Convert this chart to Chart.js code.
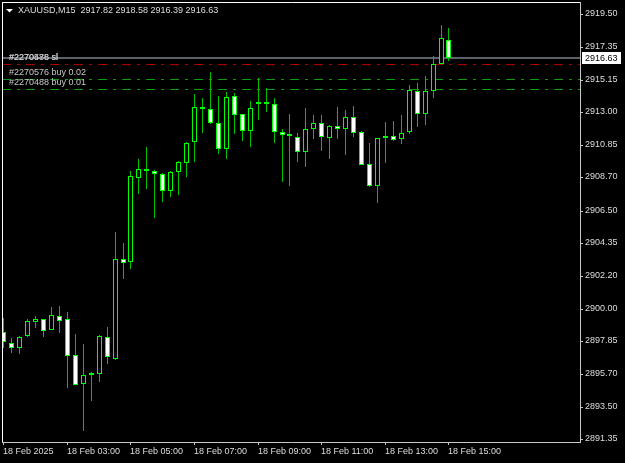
<!DOCTYPE html>
<html><head><meta charset="utf-8">
<script src="https://cdn.jsdelivr.net/npm/chart.js@4/dist/chart.umd.min.js"></script>
<style>html,body{margin:0;padding:0;background:#000;overflow:hidden}</style>
</head><body><canvas id="c" width="625" height="463"></canvas>
<script>
// ---------------- DATA ----------------
const symbolTitle = 'XAUUSD,M15';
const times = ['01:00','01:15','01:30','01:45','02:00','02:15','02:30','02:45',
  '03:00','03:15','03:30','03:45','04:00','04:15','04:30','04:45',
  '05:00','05:15','05:30','05:45','06:00','06:15','06:30','06:45',
  '07:00','07:15','07:30','07:45','08:00','08:15','08:30','08:45',
  '09:00','09:15','09:30','09:45','10:00','10:15','10:30','10:45',
  '11:00','11:15','11:30','11:45','12:00','12:15','12:30','12:45',
  '13:00','13:15','13:30','13:45','14:00','14:15','14:30','14:45','15:00'];
const open  = [2898.48,2897.71,2897.43,2898.21,2899.14,2899.30,2898.61,2899.55,
  2899.30,2896.92,2895.00,2895.58,2895.71,2898.11,2896.67,2903.30,
  2903.12,2908.64,2909.20,2909.14,2908.94,2907.81,2909.06,2909.63,
  2911.02,2913.26,2913.21,2912.28,2910.56,2914.06,2912.88,2911.75,
  2913.58,2913.55,2913.54,2911.69,2911.47,2911.40,2910.35,2911.89,
  2912.28,2911.34,2912.10,2911.89,2912.68,2911.71,2909.61,2908.13,
  2911.33,2911.44,2911.22,2911.73,2914.41,2912.92,2914.44,2916.23,2917.82];
const high  = [2899.39,2898.04,2898.21,2899.30,2899.52,2899.32,2900.10,2900.16,
  2899.78,2898.33,2897.66,2895.79,2898.26,2898.77,2905.10,2904.36,
  2909.09,2909.93,2910.73,2909.17,2908.96,2909.12,2909.79,2911.04,
  2914.22,2913.96,2915.68,2914.09,2914.36,2914.28,2912.90,2913.76,
  2915.27,2914.60,2913.94,2911.89,2912.90,2911.62,2913.30,2912.83,
  2912.83,2912.14,2913.36,2913.16,2913.43,2911.77,2911.00,2911.34,
  2912.37,2912.46,2912.83,2914.80,2914.93,2915.41,2916.72,2918.81,2918.58];
const low   = [2897.38,2897.09,2897.02,2898.13,2898.74,2898.15,2898.59,2898.41,
  2894.73,2894.95,2891.93,2893.87,2895.17,2896.34,2896.61,2902.00,
  2902.63,2907.60,2907.91,2906.03,2907.09,2907.38,2907.55,2908.73,
  2909.70,2911.67,2912.24,2910.22,2909.89,2911.59,2911.13,2910.73,
  2912.52,2913.05,2910.96,2908.41,2908.13,2909.70,2909.37,2911.26,
  2910.47,2909.89,2911.22,2910.20,2911.40,2909.49,2908.08,2907.00,
  2909.67,2911.14,2910.89,2911.59,2912.06,2912.17,2913.96,2916.21,2916.39];
const close = [2897.78,2897.38,2898.15,2899.16,2899.32,2898.55,2899.57,2899.21,
  2896.90,2894.98,2895.60,2895.76,2898.20,2896.82,2903.30,2903.06,
  2908.77,2909.24,2909.15,2908.92,2907.81,2909.08,2909.72,2910.98,
  2913.34,2913.23,2912.27,2910.56,2914.00,2912.81,2911.75,2913.27,
  2913.55,2913.57,2911.69,2911.49,2911.45,2910.35,2911.89,2912.28,
  2911.35,2912.10,2911.89,2912.68,2911.62,2909.51,2908.13,2911.31,
  2911.32,2911.15,2911.63,2914.47,2912.92,2914.40,2916.24,2917.93,2916.63];
const xTickTimes  = ['01:00','03:00','05:00','07:00','09:00','11:00','13:00','15:00'];
const xTickLabels = ['18 Feb 2025','18 Feb 03:00','18 Feb 05:00','18 Feb 07:00',
  '18 Feb 09:00','18 Feb 11:00','18 Feb 13:00','18 Feb 15:00'];
const yTickLabels = ['2919.50','2917.35','2915.15','2913.00','2910.85','2908.70','2906.50',
  '2904.35','2902.20','2900.00','2897.85','2895.70','2893.50','2891.35'];
const orderLabels = ['#2270488 sl','#2270576 sl','#2270576 buy 0.02','#2270488 buy 0.01'];
const orderPrices = [2916.23, 2916.23, 2915.23, 2914.57];
const orderKinds  = ['sl','sl','buy','buy'];

// ---------------- STYLE / LAYOUT ----------------
const FONT = 'Liberation Sans';
const TXT = '#dedede';
const BAR_PX = 7.95;
const X_MIN = -0.1635, X_MAX = X_MIN + 578 / BAR_PX;
const Y_MIN = 2891.175, Y_MAX = 2920.315;
const KIND_COLOR = {sl: '#a80000', buy: '#0b9a0b'};
const n = times.length;
const bid = close[n - 1];

const bodyData = times.map((t, i) => ({x: i, y: [open[i], close[i]]}));
const wickData = times.map((t, i) => ({x: i, y: [low[i], high[i]]}));

const datasets = [
  {type: 'bar', data: bodyData, order: 0, grouped: false, barThickness: 5, minBarLength: 2,
   borderWidth: 1, borderSkipped: false, borderColor: '#00ff00', inflateAmount: 0,
   backgroundColor: times.map((t, i) => close[i] >= open[i] ? '#000000' : '#ffffff')},
  {type: 'bar', data: wickData, order: 1, grouped: false, barThickness: 1, borderWidth: 0,
   inflateAmount: 0, backgroundColor: '#00c000'}
];
orderPrices.forEach((p, k) => datasets.push({
  type: 'line', order: 2, data: [{x: X_MIN, y: p}, {x: X_MAX, y: p}],
  borderColor: KIND_COLOR[orderKinds[k]], borderWidth: 1, borderDash: [9, 6, 3, 6],
  pointRadius: 0, fill: false
}));
datasets.push({type: 'line', order: 3, data: [{x: X_MIN, y: bid}, {x: X_MAX, y: bid}],
  borderColor: '#5b6169', borderWidth: 2, pointRadius: 0, fill: false});

const mtPlugin = {
  id: 'mt',
  beforeDraw(chart) {
    const {ctx} = chart;
    ctx.save(); ctx.fillStyle = '#000'; ctx.fillRect(0, 0, chart.width, chart.height); ctx.restore();
  },
  beforeDatasetDraw(chart, args) {
    const ds = chart.data.datasets[args.index];
    const ctx = chart.ctx;
    ctx.save();
    if (ds.type === 'bar') ctx.translate(0.5, 0);
    else if (ds.borderWidth === 1) ctx.translate(0, 0.5);
  },
  afterDatasetDraw(chart) { chart.ctx.restore(); },
  afterDraw(chart) {
    const {ctx, chartArea: a, scales: {y}} = chart;
    ctx.save();
    ctx.strokeStyle = '#ffffff'; ctx.lineWidth = 1;
    ctx.beginPath();
    ctx.moveTo(a.left + 0.5, a.top + 0.5); ctx.lineTo(a.right, a.top + 0.5);
    ctx.moveTo(a.left + 0.5, a.top); ctx.lineTo(a.left + 0.5, a.bottom);
    ctx.stroke();
    ctx.font = '9px "' + FONT + '"';
    ctx.textBaseline = 'middle'; ctx.textAlign = 'left';
    ctx.fillStyle = '#c8c8c8';
    orderLabels.forEach((t, i) => ctx.fillText(t, a.left + 7, y.getPixelForValue(orderPrices[i]) - 6));
    ctx.fillStyle = '#ffffff';
    ctx.beginPath(); ctx.moveTo(6, 9); ctx.lineTo(13, 9); ctx.lineTo(9.5, 12.5); ctx.closePath(); ctx.fill();
    ctx.fillStyle = TXT;
    const last = n - 1;
    const title = symbolTitle + '  ' + [open[last], high[last], low[last], close[last]].map(v => v.toFixed(2)).join(' ');
    ctx.fillText(title, 18, 11);
    const by = Math.round(y.getPixelForValue(bid));
    ctx.fillStyle = '#ffffff';
    ctx.fillRect(a.right + 2, by - 6, 39, 12);
    ctx.fillStyle = '#000000';
    ctx.fillText(bid.toFixed(2), a.right + 5, by + 0.5);
    ctx.restore();
  }
};

new Chart(document.getElementById('c'), {
  type: 'bar',
  data: {datasets},
  plugins: [mtPlugin],
  options: {
    responsive: false, animation: false, devicePixelRatio: 1,
    layout: {padding: {left: 2, top: 2, right: 0, bottom: 0}},
    plugins: {legend: {display: false}, tooltip: {enabled: false}},
    scales: {
      x: {
        type: 'linear', position: 'bottom', min: X_MIN, max: X_MAX, offset: false, alignToPixels: true,
        afterBuildTicks: s => { s.ticks = xTickTimes.map(t => ({value: times.indexOf(t)})); },
        afterFit: s => { s.height = 21; s.paddingLeft = 0; s.paddingRight = 0; },
        ticks: {autoSkip: false, maxRotation: 0, minRotation: 0, align: 'start', padding: 1,
          color: TXT, font: {family: FONT, size: 9}, callback: (v, i) => xTickLabels[i]},
        grid: {display: true, drawOnChartArea: false, drawTicks: true, tickLength: 3, color: '#c8c8c8', offset: false},
        border: {display: true, color: '#c8c8c8'}
      },
      y: {
        type: 'linear', position: 'right', min: Y_MIN, max: Y_MAX, alignToPixels: true,
        afterBuildTicks: s => { s.ticks = yTickLabels.map(l => ({value: parseFloat(l)})); },
        afterFit: s => { s.width = 45; s.paddingTop = 0; s.paddingBottom = 0; },
        ticks: {autoSkip: false, padding: 2, color: TXT, font: {family: FONT, size: 9},
          callback: (v, i) => yTickLabels[i]},
        grid: {display: true, drawOnChartArea: false, drawTicks: true, tickLength: 3, color: '#c8c8c8'},
        border: {display: true, color: '#c8c8c8'}
      }
    }
  }
});
</script>
</body></html>
